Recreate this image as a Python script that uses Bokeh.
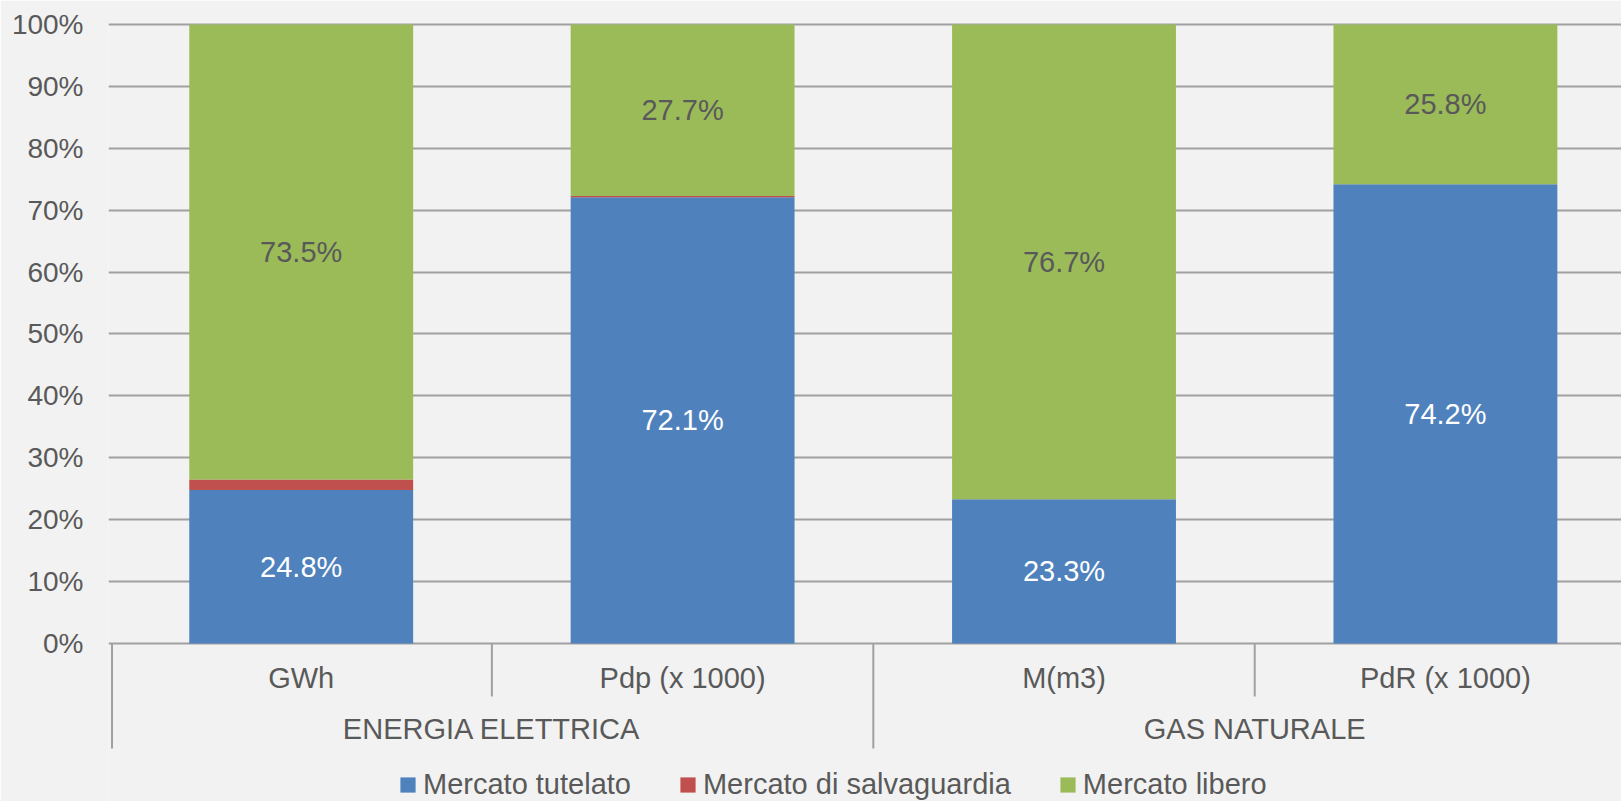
from bokeh.plotting import figure
from bokeh.models import (ColumnDataSource, Range1d, FixedTicker, PrintfTickFormatter,
                          Legend)
from bokeh.core.properties import value
from bokeh.embed import file_html
from bokeh.resources import INLINE

# ---- data ----
categories = ["GWh", "Pdp (x 1000)", "M(m3)", "PdR (x 1000)"]
groups = ["ENERGIA ELETTRICA", "GAS NATURALE"]
cats_per_group = [2, 2]
tutelato = [24.8, 72.1, 23.3, 74.2]
salvaguardia = [1.7, 0.2, 0.0, 0.0]
libero = [73.5, 27.7, 76.7, 25.8]
series_names = ["Mercato tutelato", "Mercato di salvaguardia", "Mercato libero"]
y_ticks = [0, 10, 20, 30, 40, 50, 60, 70, 80, 90, 100]

# ---- style ----
FONT = value("Liberation Sans")
BG = "#f2f2f2"
GRAY = "#595959"
GRID = "#a0a0a0"
COLORS = ["#4f81bd", "#c0504d", "#9bbb59"]
FS = "29px"

n = len(categories)
xc = [i + 0.5 for i in range(n)]

src = ColumnDataSource(dict(x=xc, t=tutelato, s=salvaguardia, l=libero))

p = figure(width=1621, height=801, output_backend="svg", toolbar_location=None,
           x_range=Range1d(-0.00524, 3.9617), y_range=Range1d(-25.525, 100.323),
           min_border_left=108, min_border_right=0, min_border_top=22, min_border_bottom=0)
p.background_fill_color = BG
p.border_fill_color = BG
p.outline_line_color = None

p.xaxis.visible = False
p.xgrid.visible = False

yt = FixedTicker(ticks=y_ticks, minor_ticks=[])
p.yaxis.ticker = yt
p.yaxis.formatter = PrintfTickFormatter(format="%d%%")
p.yaxis.axis_line_color = None
p.yaxis.major_tick_line_color = None
p.yaxis.minor_tick_line_color = None
p.yaxis.major_tick_out = 0
p.yaxis.major_tick_in = 0
p.yaxis.minor_tick_out = 0
p.yaxis.major_label_text_font = "Liberation Sans"
p.yaxis.major_label_text_font_size = "28px"
p.yaxis.major_label_text_color = GRAY
p.yaxis.major_label_standoff = 25
p.ygrid.ticker = yt
p.ygrid.grid_line_color = GRID
p.ygrid.grid_line_width = 2

rs = p.vbar_stack(["t", "s", "l"], x="x", width=0.587, color=COLORS, line_width=0,
                  source=src)

# data labels
lab_x, lab_y, lab_t, lab_c = [], [], [], []
for i in range(n):
    lab_x.append(xc[i]); lab_y.append(tutelato[i] / 2)
    lab_t.append(f"{tutelato[i]:.1f}%"); lab_c.append("#ffffff")
    lab_x.append(xc[i]); lab_y.append(tutelato[i] + salvaguardia[i] + libero[i] / 2)
    lab_t.append(f"{libero[i]:.1f}%"); lab_c.append(GRAY)
p.text(x=lab_x, y=lab_y, text=lab_t, text_color=lab_c, text_font=FONT,
       text_font_size=FS, text_align="center", text_baseline="middle")

# category axis (two levels)
p.text(x=xc, y=[-5.57] * n, text=categories, text_color=GRAY, text_font=FONT,
       text_font_size=FS, text_align="center", text_baseline="middle")
gx, bounds, inner = [], [0], []
start = 0
for k in cats_per_group:
    gx.append(start + k / 2)
    inner.extend(range(start + 1, start + k))
    start += k
    bounds.append(start)
p.text(x=gx, y=[-13.89] * len(gx), text=groups, text_color=GRAY, text_font=FONT,
       text_font_size=FS, text_align="center", text_baseline="middle")
p.segment(x0=inner, y0=[0] * len(inner), x1=inner, y1=[-8.56] * len(inner),
          line_color=GRID, line_width=2)
bx = [b + 0.004 if b == 0 else b for b in bounds]
p.segment(x0=bx, y0=[0] * len(bx), x1=bx, y1=[-16.96] * len(bx),
          line_color=GRID, line_width=2)

legend = Legend(items=[(nm, [r]) for nm, r in zip(series_names, rs)],
                location=(290, 0), orientation="horizontal",
                glyph_width=19, glyph_height=19, label_standoff=6, spacing=47,
                padding=0, margin=0, border_line_color=None, background_fill_alpha=0,
                label_text_font="Liberation Sans", label_text_font_size=FS,
                label_text_color=GRAY, label_height=30)
p.add_layout(legend, "center")

html = file_html(p, INLINE)
html = html.replace("<body>", '<body style="background:#f2f2f2">', 1)
open("out.html", "w").write(html)
